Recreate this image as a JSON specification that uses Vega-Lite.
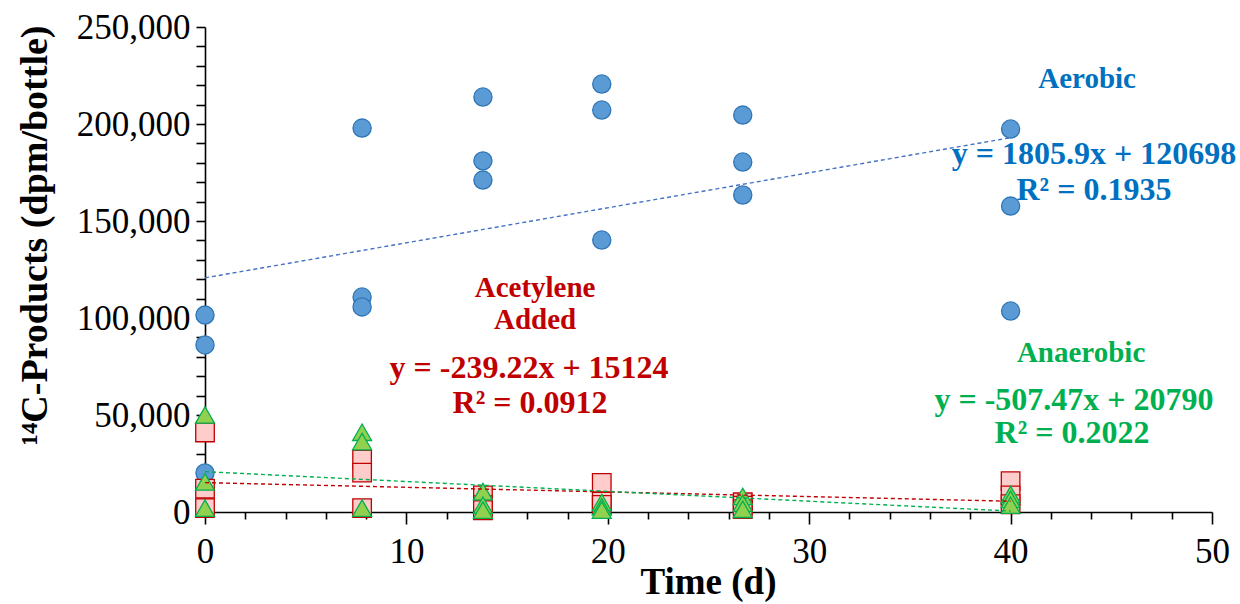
{
  "$schema": "https://vega.github.io/schema/vega-lite/v6.json",
  "width": 1007,
  "height": 485,
  "autosize": {"type": "none"},
  "padding": {"left": 205, "top": 27, "right": 28, "bottom": 92},
  "background": "white",
  "config": {"view": {"stroke": null}},
  "datasets": {
    "pts": [
      {"series": "Aerobic", "t": 0, "v": 101500}, {"series": "Aerobic", "t": 0, "v": 86100}, {"series": "Aerobic", "t": 0, "v": 20100},
      {"series": "Aerobic", "t": 7.8, "v": 197900}, {"series": "Aerobic", "t": 7.8, "v": 110800}, {"series": "Aerobic", "t": 7.8, "v": 105700},
      {"series": "Aerobic", "t": 13.8, "v": 213900}, {"series": "Aerobic", "t": 13.8, "v": 181000}, {"series": "Aerobic", "t": 13.8, "v": 171100},
      {"series": "Aerobic", "t": 19.7, "v": 220600}, {"series": "Aerobic", "t": 19.7, "v": 207200}, {"series": "Aerobic", "t": 19.7, "v": 140200},
      {"series": "Aerobic", "t": 26.7, "v": 204600}, {"series": "Aerobic", "t": 26.7, "v": 180400}, {"series": "Aerobic", "t": 26.7, "v": 163400},
      {"series": "Aerobic", "t": 40, "v": 197400}, {"series": "Aerobic", "t": 40, "v": 157700}, {"series": "Aerobic", "t": 40, "v": 103600},
      {"series": "Acetylene", "t": 0, "v": 41000}, {"series": "Acetylene", "t": 0, "v": 12000}, {"series": "Acetylene", "t": 0, "v": 2000},
      {"series": "Acetylene", "t": 7.8, "v": 27000}, {"series": "Acetylene", "t": 7.8, "v": 20300}, {"series": "Acetylene", "t": 7.8, "v": 2000},
      {"series": "Acetylene", "t": 13.8, "v": 8500}, {"series": "Acetylene", "t": 13.8, "v": 3500}, {"series": "Acetylene", "t": 13.8, "v": 900},
      {"series": "Acetylene", "t": 19.7, "v": 15000}, {"series": "Acetylene", "t": 19.7, "v": 5400}, {"series": "Acetylene", "t": 19.7, "v": 3700},
      {"series": "Acetylene", "t": 26.7, "v": 5000}, {"series": "Acetylene", "t": 26.7, "v": 3300}, {"series": "Acetylene", "t": 26.7, "v": 1500},
      {"series": "Acetylene", "t": 40, "v": 15900}, {"series": "Acetylene", "t": 40, "v": 8500}, {"series": "Acetylene", "t": 40, "v": 4000},
      {"series": "Anaerobic", "t": 0, "v": 50000}, {"series": "Anaerobic", "t": 0, "v": 15500}, {"series": "Anaerobic", "t": 0, "v": 2000},
      {"series": "Anaerobic", "t": 7.8, "v": 41100}, {"series": "Anaerobic", "t": 7.8, "v": 36300}, {"series": "Anaerobic", "t": 7.8, "v": 2000},
      {"series": "Anaerobic", "t": 13.8, "v": 10500}, {"series": "Anaerobic", "t": 13.8, "v": 3500}, {"series": "Anaerobic", "t": 13.8, "v": 1000},
      {"series": "Anaerobic", "t": 19.7, "v": 4900}, {"series": "Anaerobic", "t": 19.7, "v": 2600}, {"series": "Anaerobic", "t": 19.7, "v": 1000},
      {"series": "Anaerobic", "t": 26.7, "v": 8000}, {"series": "Anaerobic", "t": 26.7, "v": 4500}, {"series": "Anaerobic", "t": 26.7, "v": 1400},
      {"series": "Anaerobic", "t": 40, "v": 9000}, {"series": "Anaerobic", "t": 40, "v": 6500}, {"series": "Anaerobic", "t": 40, "v": 3500}
    ],
    "trend": [
      {"series": "Aerobic", "t": 0, "v": 120698}, {"series": "Aerobic", "t": 40, "v": 192934},
      {"series": "Acetylene", "t": 0, "v": 15124}, {"series": "Acetylene", "t": 40, "v": 5555},
      {"series": "Anaerobic", "t": 0, "v": 20790}, {"series": "Anaerobic", "t": 40, "v": 491}
    ],
    "notes": [
      {"series": "Aerobic", "kind": "label", "text": "Aerobic", "t": 43.8, "v": 218600},
      {"series": "Aerobic", "kind": "eq", "text": "y = 1805.9x + 120698", "t": 44.14, "v": 179500},
      {"series": "Aerobic", "kind": "eq", "text": "R² = 0.1935", "t": 44.14, "v": 160900},
      {"series": "Acetylene", "kind": "label", "text": "Acetylene", "t": 16.39, "v": 111000},
      {"series": "Acetylene", "kind": "label", "text": "Added", "t": 16.39, "v": 94500},
      {"series": "Acetylene", "kind": "eq", "text": "y = -239.22x + 15124", "t": 16.09, "v": 69300},
      {"series": "Acetylene", "kind": "eq", "text": "R² = 0.0912", "t": 16.14, "v": 51200},
      {"series": "Anaerobic", "kind": "label", "text": "Anaerobic", "t": 43.5, "v": 77500},
      {"series": "Anaerobic", "kind": "eq", "text": "y = -507.47x + 20790", "t": 43.15, "v": 52800},
      {"series": "Anaerobic", "kind": "eq", "text": "R² = 0.2022", "t": 43.05, "v": 35800}
    ]
  },
  "encoding": {
    "x": {
      "field": "t", "type": "quantitative",
      "scale": {"domain": [0, 50], "nice": false, "zero": false},
      "axis": {
        "title": "Time (d)",
        "values": [0,2,4,6,8,10,12,14,16,18,20,22,24,26,28,30,32,34,36,38,40,42,44,46,48,50],
        "labelExpr": "datum.value % 10 === 0 ? datum.label : ''",
        "labelOverlap": false,
        "grid": false,
        "domainColor": "black", "domainWidth": 1.6,
        "tickColor": "black", "tickWidth": 1.6,
        "tickSize": {"condition": {"test": "datum.value % 10 === 0", "value": 12}, "value": 7},
        "labelFont": "Liberation Serif", "labelFontSize": 35, "labelColor": "black",
        "labelPadding": 10,
        "labelBaseline": "top",
        "labelFlush": false,
        "titleFont": "Liberation Serif", "titleFontSize": 37, "titleFontWeight": "bold", "titleColor": "black",
        "titleBaseline": "alphabetic", "titleY": 81, "titleX": 503
      }
    },
    "y": {
      "field": "v", "type": "quantitative",
      "scale": {"domain": [0, 250000], "nice": false},
      "axis": {
        "title": "¹⁴C-Products (dpm/bottle)",
        "values": [0,10000,20000,30000,40000,50000,60000,70000,80000,90000,100000,110000,120000,130000,140000,150000,160000,170000,180000,190000,200000,210000,220000,230000,240000,250000],
        "labelExpr": "datum.value % 50000 === 0 ? format(datum.value, ',') : ''",
        "labelOverlap": false,
        "labelFlush": false,
        "grid": false,
        "domainColor": "black", "domainWidth": 1.6,
        "tickColor": "black", "tickWidth": 1.6, "tickSize": 9,
        "labelFont": "Liberation Serif", "labelFontSize": 35, "labelColor": "black",
        "labelPadding": 6,
        "titleFont": "Liberation Serif", "titleFontSize": 38, "titleFontWeight": "bold", "titleColor": "black",
        "titleAngle": -90, "titleBaseline": "middle", "titleAlign": "center",
        "titleX": -170, "titleY": 208
      }
    }
  },
  "layer": [
    {
      "data": {"name": "pts"},
      "mark": {"type": "point", "filled": true, "opacity": 1, "strokeWidth": 1.3},
      "encoding": {
        "fill": {"field": "series", "type": "nominal", "legend": null,
          "scale": {"domain": ["Aerobic", "Acetylene", "Anaerobic"], "range": ["#5B9BD5", "#FFCCCC", "#92D050"]}},
        "stroke": {"field": "series", "type": "nominal", "legend": null,
          "scale": {"domain": ["Aerobic", "Acetylene", "Anaerobic"], "range": ["#2E75B6", "#C00000", "#00B050"]}},
        "shape": {"field": "series", "type": "nominal", "legend": null,
          "scale": {"domain": ["Aerobic", "Acetylene", "Anaerobic"], "range": ["circle", "square", "triangle-up"]}},
        "size": {"field": "series", "type": "nominal", "legend": null,
          "scale": {"domain": ["Aerobic", "Acetylene", "Anaerobic"], "range": [330, 360, 440]}}
      }
    },
    {
      "data": {"name": "trend"},
      "mark": {"type": "line", "strokeDash": [4, 3], "strokeWidth": 1.4},
      "encoding": {
        "stroke": {"field": "series", "type": "nominal", "legend": null,
          "scale": {"domain": ["Aerobic", "Acetylene", "Anaerobic"], "range": ["#4472C4", "#C00000", "#00B050"]}}
      }
    },
    {
      "data": {"name": "notes"},
      "mark": {"type": "text", "font": "Liberation Serif", "fontWeight": "bold", "align": "center", "baseline": "alphabetic"},
      "encoding": {
        "text": {"field": "text", "type": "nominal"},
        "color": {"field": "series", "type": "nominal", "legend": null,
          "scale": {"domain": ["Aerobic", "Acetylene", "Anaerobic"], "range": ["#0070C0", "#C00000", "#00B050"]}},
        "size": {"field": "kind", "type": "nominal", "legend": null,
          "scale": {"domain": ["label", "eq"], "range": [29, 32]}}
      }
    }
  ],
  "resolve": {"scale": {"fill": "independent", "stroke": "independent", "shape": "independent", "size": "independent", "color": "independent"}}
}
